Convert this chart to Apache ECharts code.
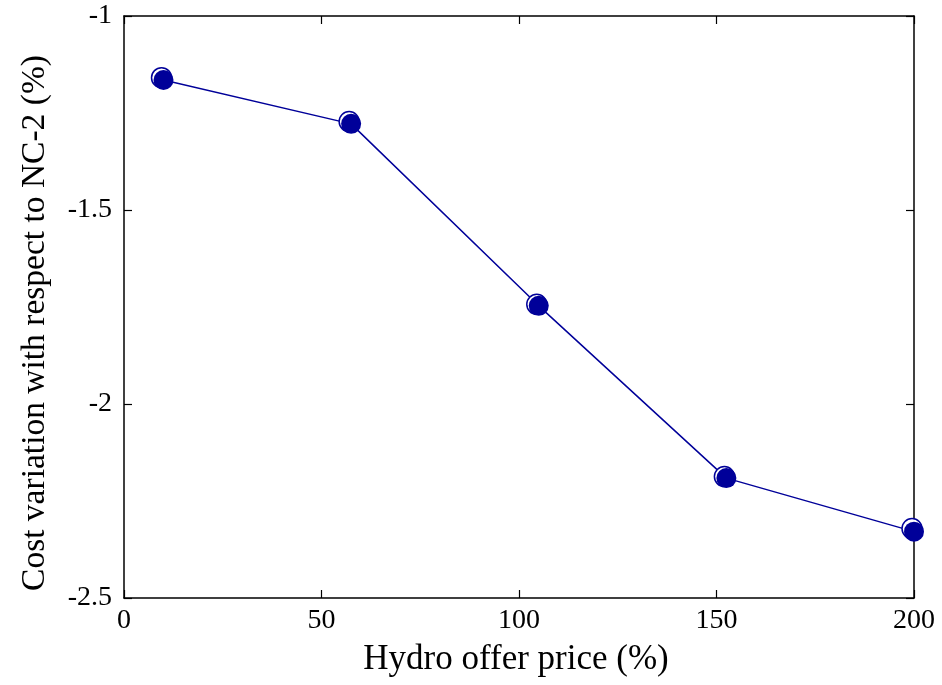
<!DOCTYPE html>
<html>
<head>
<meta charset="utf-8">
<script src="https://cdn.jsdelivr.net/npm/echarts@6/dist/echarts.min.js"></script>
<style>
  html, body { margin: 0; padding: 0; background: #fff; }
  #chart { width: 942px; height: 685px; }
</style>
</head>
<body>
<div id="chart"></div>
<script>
// Hydro offer price (%) and resulting cost variation (%)
const hollowX = [9.5, 57, 104.5, 152, 199.5];
const hollowY = [-1.159, -1.272, -1.743, -2.187, -2.321];
const filledX = [10, 57.5, 105, 152.5, 200];
const filledY = [-1.165, -1.278, -1.747, -2.191, -2.329];
const xTicks = [0, 50, 100, 150, 200];
const yTicks = [-2.5, -2, -1.5, -1];

const blue = '#000099';
const font = 'Liberation Serif';

const pairs = (xs, ys) => xs.map((x, i) => [x, ys[i]]);

const tick = () => ({ show: true, inside: true, length: 8, lineStyle: { color: '#000', width: 1.2 } });
const line = () => ({ show: true, onZero: false, lineStyle: { color: '#000', width: 1.5 } });

const chart = echarts.init(document.getElementById('chart'));
chart.setOption({
  animation: false,
  backgroundColor: '#fff',
  grid: { left: 124, right: 28, top: 16, bottom: 87 },
  xAxis: [
    {
      type: 'value', min: 0, max: 200, interval: 50, position: 'bottom',
      axisLine: line(), axisTick: tick(), splitLine: { show: false },
      name: 'Hydro offer price (%)',
      nameLocation: 'middle', nameGap: 44,
      nameTextStyle: { fontFamily: font, fontSize: 35, color: '#000', padding: [0, 6, 0, 0] },
      axisLabel: {
        margin: 9, fontFamily: font, fontSize: 28, color: '#000',
        formatter: v => xTicks.includes(v) ? String(v) : ''
      }
    },
    {
      type: 'value', min: 0, max: 200, interval: 50, position: 'top',
      axisLine: line(), axisTick: tick(), splitLine: { show: false },
      axisLabel: { show: false }
    }
  ],
  yAxis: [
    {
      type: 'value', min: -2.5, max: -1, interval: 0.5, position: 'left',
      axisLine: line(), axisTick: tick(), splitLine: { show: false },
      name: 'Cost variation with respect to NC-2 (%)',
      nameLocation: 'middle', nameGap: 72,
      nameTextStyle: { fontFamily: font, fontSize: 33.5, color: '#000', padding: [0, 32, 0, 0] },
      axisLabel: {
        margin: 12, fontFamily: font, fontSize: 28, color: '#000',
        formatter: v => yTicks.includes(v) ? String(v) : ''
      }
    },
    {
      type: 'value', min: -2.5, max: -1, interval: 0.5, position: 'right',
      axisLine: line(), axisTick: tick(), splitLine: { show: false },
      axisLabel: { show: false }
    }
  ],
  series: [
    {
      type: 'line',
      data: pairs(filledX, filledY),
      symbol: 'none',
      lineStyle: { color: blue, width: 1.5 },
      z: 1
    },
    {
      type: 'scatter',
      data: pairs(hollowX, hollowY),
      symbol: 'circle', symbolSize: 20,
      itemStyle: { color: '#fff', borderColor: blue, borderWidth: 1.5, opacity: 1 },
      z: 2
    },
    {
      type: 'scatter',
      data: pairs(filledX, filledY),
      symbol: 'circle', symbolSize: 20,
      itemStyle: { color: blue, opacity: 1 },
      z: 3
    }
  ]
});
</script>
</body>
</html>
